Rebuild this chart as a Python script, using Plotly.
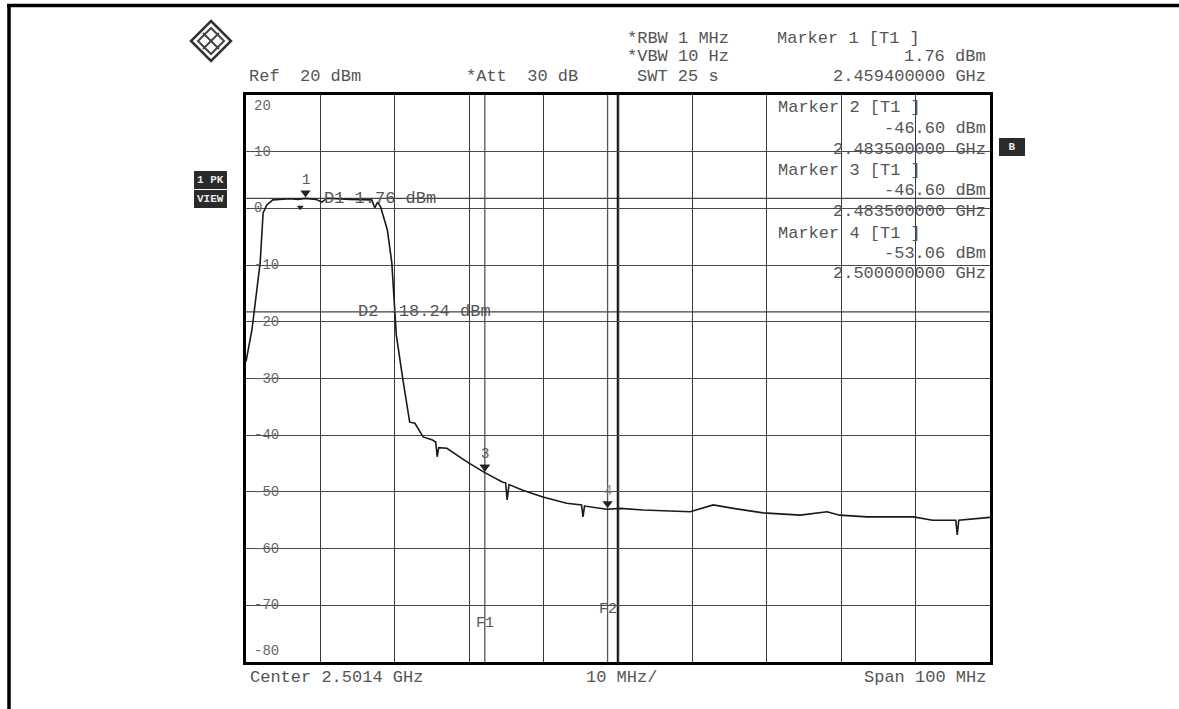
import plotly.graph_objects as go

# ---------------- data ----------------
start_ghz = 2.4514
stop_ghz = 2.5514
center_ghz = 2.5014

freq_offset_mhz = [0, 0.8, 1.9, 2.3, 2.8, 3.6, 5.9, 7.0, 8.0, 9.4, 10.2, 10.9, 14.0,
                   16.9, 17.3, 17.7, 18.1, 19.0, 19.6, 20.0, 20.2, 21.1, 22.0, 22.7,
                   23.8, 25.0, 25.5, 25.7, 25.9, 27.0, 29.7, 32.1, 34.5, 34.9, 35.1,
                   35.35, 37.2, 39.9, 43.1, 45.1, 45.3, 45.5, 48.5, 50.3, 53.4, 59.7,
                   62.8, 65.5, 69.5, 74.5, 78.1, 79.8, 83.5, 89.7, 92.3, 95.4, 95.6,
                   95.8, 99.6, 100.0]
level_dbm = [-27.0, -21.4, -9.6, -0.8, 0.6, 1.5, 1.7, 1.6, 1.76, 1.6, 1.1, 1.8, 1.6,
             1.5, 0.1, 1.1, 0.25, -3.8, -9.6, -19.7, -22.3, -30.3, -37.7, -37.9,
             -40.3, -40.8, -41.2, -43.8, -42.2, -42.3, -44.7, -46.6, -48.3, -48.4, -51.4,
             -48.7, -49.7, -50.9, -52.0, -52.3, -54.4, -52.5, -53.06, -52.9, -53.2, -53.5,
             -52.3, -52.9, -53.7, -54.1, -53.5, -54.1, -54.4, -54.4, -55.0, -55.0, -57.6,
             -55.0, -54.6, -54.5]
freq_ghz = [start_ghz + f / 1000.0 for f in freq_offset_mhz]

marker_names = ["1", "2", "3", "4"]
marker_freq_ghz = [2.4594, 2.4835, 2.4835, 2.5000]
marker_level_dbm = [1.76, -46.60, -46.60, -53.06]

aux_marker_freq = [2.4587]
aux_marker_level = [0.2]

d1_level = 1.76
d2_level = -18.24
f1_ghz = 2.4835
f2_ghz = 2.5000

y_ticks = [20, 10, 0, -10, -20, -30, -40, -50, -60, -70, -80]

# ---------------- layout helpers (pixel -> paper) ----------------
W, H = 1179, 709
L, R, T, B = 246, 990, 95, 662


def px(x):
    return (x - L) / (R - L)


def py(y):
    return (B - y) / (B - T)


FONT = "Liberation Mono, DejaVu Sans Mono, monospace"
TXT = "#555555"
FS = 17

fig = go.Figure()

fig.add_trace(go.Scatter(x=freq_ghz, y=level_dbm, mode="lines",
                         line=dict(color="#1a1a1a", width=1.6),
                         hoverinfo="skip", showlegend=False))

# markers (triangles just above the trace)
fig.add_trace(go.Scatter(x=marker_freq_ghz, y=[v + 1.0 for v in marker_level_dbm],
                         mode="markers",
                         marker=dict(symbol="triangle-down", size=9, color="#222222"),
                         hoverinfo="skip", showlegend=False))
fig.add_trace(go.Scatter(x=aux_marker_freq, y=aux_marker_level, mode="markers",
                         marker=dict(symbol="triangle-down", size=6, color="#222222"),
                         hoverinfo="skip", showlegend=False))

ann = []
for name, fx, lv in zip(marker_names, marker_freq_ghz, marker_level_dbm):
    if name == "2":
        continue
    ann.append(dict(x=fx, y=lv + 1.0, xref="x", yref="y", text=name, showarrow=False,
                    yshift=13, font=dict(family=FONT, size=14,
                                         color=TXT if name != "4" else "#999999")))

# display lines D1 / D2
shapes = []
for lv in (d1_level, d2_level):
    shapes.append(dict(type="line", xref="paper", yref="y", x0=0, x1=1, y0=lv, y1=lv,
                       line=dict(color="#444444", width=1.3), layer="below"))
ann.append(dict(x=px(322), y=d1_level, xref="paper", yref="y", xanchor="left",
                text="D1 %.2f dBm" % d1_level, showarrow=False,
                font=dict(family=FONT, size=FS, color=TXT)))
ann.append(dict(x=px(356), y=d2_level, xref="paper", yref="y", xanchor="left",
                text="D2 %.2f dBm" % d2_level, showarrow=False,
                font=dict(family=FONT, size=FS, color=TXT)))

# frequency lines F1 / F2 and thicker center line
for fx in (f1_ghz, f2_ghz):
    shapes.append(dict(type="line", xref="x", yref="paper", x0=fx, x1=fx, y0=0, y1=1,
                       line=dict(color="#555555", width=1.3), layer="below"))
shapes.append(dict(type="line", xref="x", yref="paper", x0=center_ghz, x1=center_ghz,
                   y0=0, y1=1, line=dict(color="#111111", width=2.5), layer="below"))
ann.append(dict(x=f1_ghz, y=py(634), xref="x", yref="paper", text="F1", showarrow=False,
                font=dict(family=FONT, size=FS - 2, color=TXT)))
ann.append(dict(x=f2_ghz, y=py(620), xref="x", yref="paper", text="F2", showarrow=False,
                font=dict(family=FONT, size=FS - 2, color=TXT)))

# y tick labels inside the grid
for v in y_ticks:
    yy = min(max(v, -78), 18)
    ann.append(dict(x=px(252), y=yy, xref="paper", yref="y", xanchor="left",
                    text=str(v), showarrow=False,
                    font=dict(family=FONT, size=FS - 3, color="#666666")))


# header and footer texts
def txt(x, y, s, anchor="left", size=FS, color=TXT):
    ann.append(dict(x=px(x), y=py(y), xref="paper", yref="paper", xanchor=anchor,
                    yanchor="middle", text=s, showarrow=False,
                    font=dict(family=FONT, size=size, color=color)))


txt(247, 77, "Ref  20 dBm")
txt(464, 77, "*Att  30 dB")
txt(625, 38, "*RBW 1 MHz")
txt(625, 57, "*VBW 10 Hz")
txt(635, 77, "SWT 25 s")
txt(775, 38, "Marker 1 [T1 ]")
txt(988, 57, "%.2f dBm" % marker_level_dbm[0], "right")
txt(988, 77, "%.9f GHz" % marker_freq_ghz[0], "right")

box_rows = [(107, 128, 149), (170, 190, 211), (233, 253, 273)]
for (ya, yb, yc), name, fx, lv in zip(box_rows, marker_names[1:], marker_freq_ghz[1:],
                                       marker_level_dbm[1:]):
    txt(776, ya, "Marker %s [T1 ]" % name)
    txt(988, yb, "%.2f dBm" % lv, "right")
    txt(988, yc, "%.9f GHz" % fx, "right")

txt(248, 677, "Center %.4f GHz" % center_ghz)
txt(584, 677, "10 MHz/")
txt(988, 677, "Span 100 MHz", "right")

# badges (dark boxes drawn as annotation backgrounds)
for (xc, yc, s) in [(210, 180, "1 PK"), (210, 199, "VIEW"), (1012, 147, "&nbsp;B&nbsp;")]:
    ann.append(dict(x=px(xc), y=py(yc), xref="paper", yref="paper",
                    xanchor="center", yanchor="middle",
                    text="<b>%s</b>" % s, showarrow=False, bgcolor="#2a2a2a",
                    bordercolor="#2a2a2a", borderpad=2, borderwidth=1,
                    font=dict(family=FONT, size=11, color="#e8e8e8")))

# outer frame (top and left)
shapes.append(dict(type="line", xref="paper", yref="paper", x0=px(7), x1=px(1179),
                   y0=py(5.5), y1=py(5.5), line=dict(color="black", width=3.5)))
shapes.append(dict(type="line", xref="paper", yref="paper", x0=px(9), x1=px(9),
                   y0=py(4), y1=py(709), line=dict(color="black", width=3.5)))

# logo (diamond)
cx, cy, hs = 211, 41, 20


def diamond(c_x, c_y, h):
    return "M %f %f L %f %f L %f %f L %f %f Z" % (
        px(c_x), py(c_y - h), px(c_x + h), py(c_y), px(c_x), py(c_y + h),
        px(c_x - h), py(c_y))


shapes.append(dict(type="path", xref="paper", yref="paper", path=diamond(cx, cy, hs),
                   line=dict(color="#333333", width=2.5)))
shapes.append(dict(type="path", xref="paper", yref="paper", path=diamond(cx, cy, hs - 7),
                   line=dict(color="#444444", width=2)))
shapes.append(dict(type="line", xref="paper", yref="paper", x0=px(cx - 8), x1=px(cx + 8),
                   y0=py(cy - 8), y1=py(cy + 8), line=dict(color="#444444", width=2)))
shapes.append(dict(type="line", xref="paper", yref="paper", x0=px(cx - 8), x1=px(cx + 8),
                   y0=py(cy + 8), y1=py(cy - 8), line=dict(color="#444444", width=2)))

fig.update_layout(
    width=W, height=H,
    margin=dict(l=L, r=W - R, t=T, b=H - B),
    paper_bgcolor="white", plot_bgcolor="white",
    showlegend=False,
    shapes=shapes, annotations=ann,
    xaxis=dict(range=[start_ghz, stop_ghz], tick0=start_ghz, dtick=0.01,
               showgrid=True, gridcolor="#3a3a3a", gridwidth=1.4,
               showticklabels=False, ticks="", zeroline=False,
               showline=True, mirror=True, linecolor="black", linewidth=2.5),
    yaxis=dict(range=[-80, 20], tick0=-80, dtick=10,
               showgrid=True, gridcolor="#4a4a4a", gridwidth=1.4,
               showticklabels=False, ticks="", zeroline=False,
               showline=True, mirror=True, linecolor="black", linewidth=2.5),
)

fig.write_html("out.html", config={"displayModeBar": False},
               post_script="document.body.style.margin='0';"
                           "document.body.style.overflow='hidden';")
